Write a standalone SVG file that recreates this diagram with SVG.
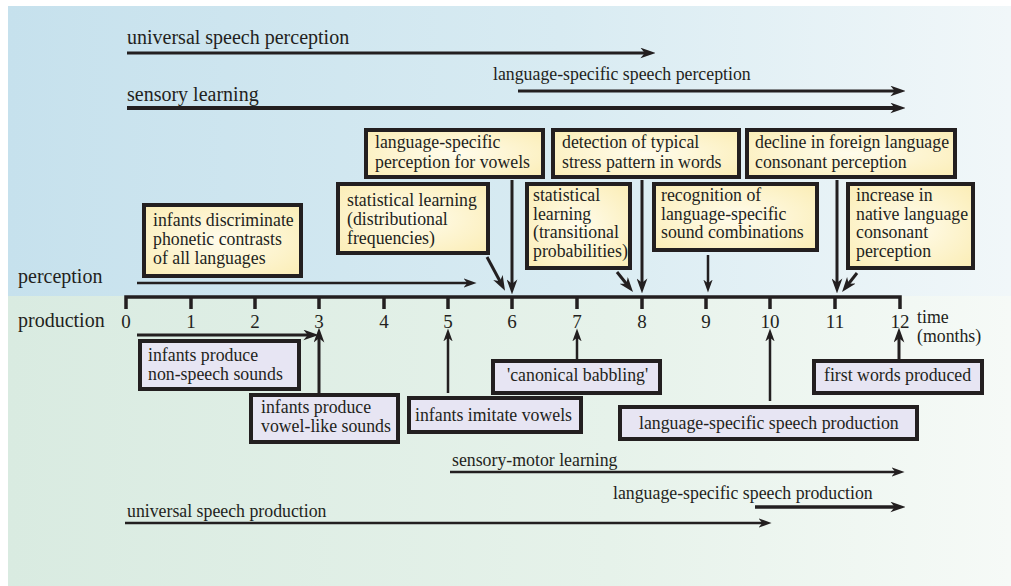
<svg xmlns="http://www.w3.org/2000/svg" width="1011" height="586" viewBox="0 0 1011 586">
<defs>
<linearGradient id="bgTop" x1="0" y1="0" x2="1" y2="0">
<stop offset="0" stop-color="#c6e1ed"/>
<stop offset="0.55" stop-color="#d8ebf2"/>
<stop offset="1" stop-color="#f1f7f9"/>
</linearGradient>
<linearGradient id="bgBot" x1="0" y1="0" x2="1" y2="0">
<stop offset="0" stop-color="#d9ebe1"/>
<stop offset="0.6" stop-color="#e6f2ea"/>
<stop offset="1" stop-color="#f6faf7"/>
</linearGradient>
<radialGradient id="yel" cx="0.5" cy="0.5" r="0.7">
<stop offset="0" stop-color="#fffcec"/>
<stop offset="1" stop-color="#fbedb5"/>
</radialGradient>
<marker id="ah" viewBox="0 0 14 10" refX="8" refY="5" markerWidth="15" markerHeight="11" markerUnits="userSpaceOnUse" orient="auto">
<path d="M0,0 L14,5 L0,10 L4,5 z" fill="#231f20"/>
</marker>
<marker id="ahs" viewBox="0 0 14 10" refX="8" refY="5" markerWidth="13" markerHeight="10" markerUnits="userSpaceOnUse" orient="auto">
<path d="M0,0 L14,5 L0,10 L4,5 z" fill="#231f20"/>
</marker>
</defs>
<style>
text{fill:#231f20;}
.big{font-size:20px;}
.t{font-size:17.8px;}
.num{font-size:19px;text-anchor:middle;}
.yb{fill:url(#yel);stroke:#231f20;stroke-width:4;}
.lb{fill:#e7e5f3;stroke:#231f20;stroke-width:4;}
.a{stroke:#231f20;stroke-width:3;fill:none;marker-end:url(#ah);}
.a2{stroke:#231f20;stroke-width:2.5;fill:none;marker-end:url(#ahs);}
.ax{stroke:#231f20;stroke-width:3.5;fill:none;}
</style>
<rect x="0" y="0" width="1011" height="586" fill="#ffffff"/>
<rect x="8" y="6" width="1003" height="290" fill="url(#bgTop)"/>
<rect x="8" y="296" width="1003" height="290" fill="url(#bgBot)"/>
<g font-family="'Liberation Serif', Tinos, 'Times New Roman', 'DejaVu Serif', serif">
<g id="labels">
<text class="big" x="127" y="44">universal speech perception</text>
<text class="t" x="493" y="80">language-specific speech perception</text>
<text class="big" x="127" y="101">sensory learning</text>
<text class="big" x="18" y="283">perception</text>
<text class="big" x="18" y="327">production</text>
<text class="t" x="917" y="323">time</text>
<text class="t" x="917" y="342">(months)</text>
<text class="t" x="452" y="466">sensory-motor learning</text>
<text class="t" x="613" y="499">language-specific speech production</text>
<text class="t" x="127" y="517">universal speech production</text>
</g>

<g id="axis">
<path class="ax" d="M126,309 V297 H900 V309 M191,297 V309 M255,297 V309 M319,297 V309 M384,297 V309 M448,297 V309 M512,297 V309 M577,297 V309 M642,297 V309 M706,297 V309 M770,297 V309 M835,297 V309"/>
<text class="num" x="126" y="328">0</text>
<text class="num" x="191" y="328">1</text>
<text class="num" x="255" y="328">2</text>
<text class="num" x="319" y="328">3</text>
<text class="num" x="384" y="328">4</text>
<text class="num" x="448" y="328">5</text>
<text class="num" x="512" y="328">6</text>
<text class="num" x="577" y="328">7</text>
<text class="num" x="642" y="328">8</text>
<text class="num" x="706" y="328">9</text>
<text class="num" x="770" y="328">10</text>
<text class="num" x="835" y="328">11</text>
<text class="num" x="900" y="328">12</text>
</g>

<g id="connectors">
<line class="a" x1="127" y1="53" x2="649" y2="53"/>
<line class="a" x1="518" y1="91" x2="899" y2="91"/>
<line class="a" x1="127" y1="108" x2="899" y2="108" style="stroke-width:4"/>
<line class="a2" x1="137" y1="283" x2="471" y2="283"/>
<line class="a" x1="512" y1="180" x2="512" y2="288"/>
<line class="a" x1="487" y1="257" x2="502" y2="285"/>
<line class="a" x1="642" y1="180" x2="642" y2="287"/>
<line class="a" x1="617" y1="272" x2="629" y2="287"/>
<line class="a2" x1="708" y1="255" x2="708" y2="287"/>
<line class="a" x1="837" y1="180" x2="837" y2="287"/>
<line class="a" x1="857" y1="273" x2="846" y2="287"/>
<line class="a" x1="137" y1="335" x2="312" y2="335"/>
<line class="a" x1="319" y1="395" x2="319" y2="334"/>
<line class="a2" x1="448" y1="393" x2="448" y2="334"/>
<line class="a2" x1="577" y1="359" x2="577" y2="334"/>
<line class="a2" x1="770" y1="401" x2="770" y2="334"/>
<line class="a" x1="899" y1="359" x2="899" y2="334"/>
<line class="a2" x1="450" y1="472" x2="899" y2="472"/>
<line class="a" x1="755" y1="507" x2="899" y2="507" style="stroke-width:3.5"/>
<line class="a2" x1="125" y1="523" x2="766" y2="523"/>
</g>

<g id="n-vowels"><rect class="yb" x="366" y="130" width="177" height="47"/>
<text class="t" x="375" y="148">language-specific</text><text class="t" x="375" y="168">perception for vowels</text></g>
<g id="n-statdist"><rect class="yb" x="338" y="184" width="150" height="69"/>
<text class="t" x="347" y="206">statistical learning</text><text class="t" x="347" y="225">(distributional</text><text class="t" x="347" y="244">frequencies)</text></g>
<g id="n-discrim"><rect class="yb" x="144" y="205" width="157" height="71"/>
<text class="t" x="153" y="226">infants discriminate</text><text class="t" x="153" y="245">phonetic contrasts</text><text class="t" x="153" y="264">of all languages</text></g>
<g id="n-stress"><rect class="yb" x="553" y="130" width="186" height="47"/>
<text class="t" x="562" y="148">detection of typical</text><text class="t" x="562" y="168">stress pattern in words</text></g>
<g id="n-stattrans"><rect class="yb" x="527" y="184" width="103" height="84"/>
<text class="t" x="533" y="201">statistical</text><text class="t" x="533" y="220">learning</text><text class="t" x="533" y="238">(transitional</text><text class="t" x="533" y="257">probabilities)</text></g>
<g id="n-recog"><rect class="yb" x="654" y="184" width="163" height="66"/>
<text class="t" x="661" y="201">recognition of</text><text class="t" x="661" y="220">language-specific</text><text class="t" x="661" y="238">sound combinations</text></g>
<g id="n-decline"><rect class="yb" x="747" y="130" width="208" height="47"/>
<text class="t" x="755" y="148">decline in foreign language</text><text class="t" x="755" y="168">consonant perception</text></g>
<g id="n-increase"><rect class="yb" x="848" y="184" width="125" height="84"/>
<text class="t" x="856" y="201">increase in</text><text class="t" x="856" y="220">native language</text><text class="t" x="856" y="238">consonant</text><text class="t" x="856" y="257">perception</text></g>

<g id="n-nonspeech"><rect class="lb" x="140" y="341" width="159" height="48"/>
<text class="t" x="148" y="361">infants produce</text><text class="t" x="148" y="380">non-speech sounds</text></g>
<g id="n-vowellike"><rect class="lb" x="251" y="395" width="147" height="47"/>
<text class="t" x="261" y="413">infants produce</text><text class="t" x="261" y="432">vowel-like sounds</text></g>
<g id="n-imitate"><rect class="lb" x="409" y="398" width="172" height="34"/>
<text class="t" x="415" y="421">infants imitate vowels</text></g>
<g id="n-babbling"><rect class="lb" x="493" y="361" width="167" height="32"/>
<text class="t" x="507" y="381">'canonical babbling'</text></g>
<g id="n-lsprod"><rect class="lb" x="620" y="407" width="297" height="32"/>
<text class="t" x="639" y="429">language-specific speech production</text></g>
<g id="n-firstwords"><rect class="lb" x="814" y="361" width="168" height="32"/>
<text class="t" x="824" y="381">first words produced</text></g>
</g>
</svg>
